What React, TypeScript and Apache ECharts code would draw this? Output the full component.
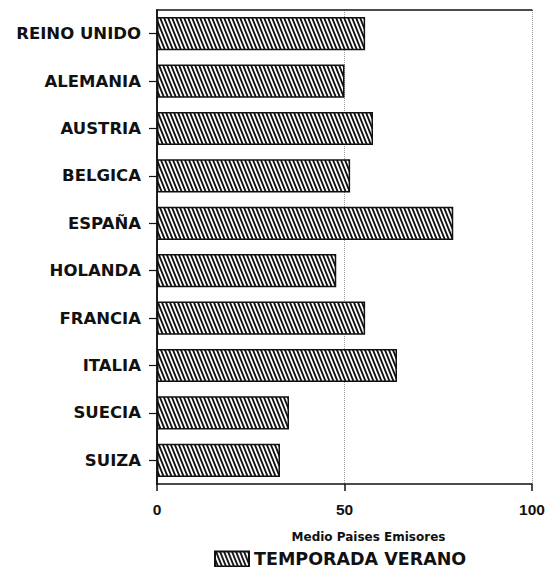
import React, { useEffect, useRef } from "react";
import * as echarts from "echarts";

const categories = [
  "REINO UNIDO",
  "ALEMANIA",
  "AUSTRIA",
  "BELGICA",
  "ESPAÑA",
  "HOLANDA",
  "FRANCIA",
  "ITALIA",
  "SUECIA",
  "SUIZA",
];
const verano = [55.5, 50, 57.6, 51.5, 79, 47.8, 55.5, 64, 35.2, 32.8];
const seriesName = "TEMPORADA VERANO";
const axisTitle = "Medio Paises Emisores";

const FONT = "'DejaVu Sans', 'Liberation Sans', Arial, sans-serif";
const FONT_NUM = "'Liberation Sans', Arial, sans-serif";

function makeHatch(): string {
  const w = 4;
  const h = 10;
  const c = document.createElement("canvas");
  c.width = w;
  c.height = h;
  const ctx = c.getContext("2d");
  if (!ctx) return "";
  ctx.fillStyle = "#fff";
  ctx.fillRect(0, 0, w, h);
  ctx.fillStyle = "#111";
  for (const dx of [-w, 0, w]) {
    ctx.beginPath();
    ctx.moveTo(dx + 0, 0);
    ctx.lineTo(dx + 2, 0);
    ctx.lineTo(dx + 2 + w, h);
    ctx.lineTo(dx + w, h);
    ctx.closePath();
    ctx.fill();
  }
  return c.toDataURL();
}

export default function App() {
  const ref = useRef<HTMLDivElement>(null);
  useEffect(() => {
    if (!ref.current) return;
    const chart = echarts.init(ref.current, undefined, { renderer: "svg" });
    const hatch = { image: makeHatch(), repeat: "repeat" };
    const borderLine = { show: true, lineStyle: { color: "#111", width: 1.5 } };
    chart.setOption({
      animation: false,
      backgroundColor: "#fff",
      grid: {
        left: 157,
        right: 22,
        top: 10,
        bottom: 91,
      },
      legend: {
        top: 545,
        left: 209,
        itemWidth: 34,
        itemHeight: 15,
        itemGap: 5,
        icon: "rect",
        textStyle: {
          fontFamily: FONT,
          fontWeight: "bold",
          fontSize: 17.5,
          color: "#111",
        },
        data: [seriesName],
      },
      xAxis: [
        {
          type: "value",
          min: 0,
          max: 100,
          interval: 50,
          name: axisTitle,
          nameLocation: "middle",
          nameGap: 47,
          nameTextStyle: {
            fontFamily: FONT,
            fontWeight: "bold",
            fontSize: 12,
            color: "#111",
            padding: [0, 0, 0, 48],
          },
          axisLine: borderLine,
          axisTick: { show: true, length: 7, lineStyle: { color: "#111", width: 1.5 } },
          axisLabel: {
            margin: 17,
            fontFamily: FONT_NUM,
            fontWeight: "bold",
            fontSize: 15.5,
            color: "#111",
          },
          splitLine: {
            show: true,
            lineStyle: { color: "#999", type: "dotted", width: 1 },
          },
        },
        {
          type: "value",
          position: "top",
          min: 0,
          max: 100,
          interval: 50,
          axisLine: borderLine,
          axisTick: { show: false },
          axisLabel: { show: false },
          splitLine: { show: false },
        },
      ],
      yAxis: [
        {
          type: "category",
          data: categories,
          inverse: true,
          axisLine: borderLine,
          axisTick: {
            show: true,
            alignWithLabel: true,
            length: 8,
            lineStyle: { color: "#111", width: 1.2 },
          },
          axisLabel: {
            margin: 16,
            fontFamily: FONT,
            fontWeight: "bold",
            fontSize: 16.5,
            color: "#111",
          },
          splitLine: { show: false },
        },
        {
          type: "category",
          data: categories,
          inverse: true,
          position: "right",
          axisLine: borderLine,
          axisTick: { show: false },
          axisLabel: { show: false },
          splitLine: { show: false },
        },
      ],
      series: [
        {
          name: seriesName,
          type: "bar",
          data: verano,
          barCategoryGap: "30%",
          itemStyle: {
            color: hatch,
            borderColor: "#111",
            borderWidth: 1.5,
          },
        },
      ],
    });
    return () => chart.dispose();
  }, []);
  return <div ref={ref} style={{ width: 554, height: 575, margin: -8 }} />;
}
